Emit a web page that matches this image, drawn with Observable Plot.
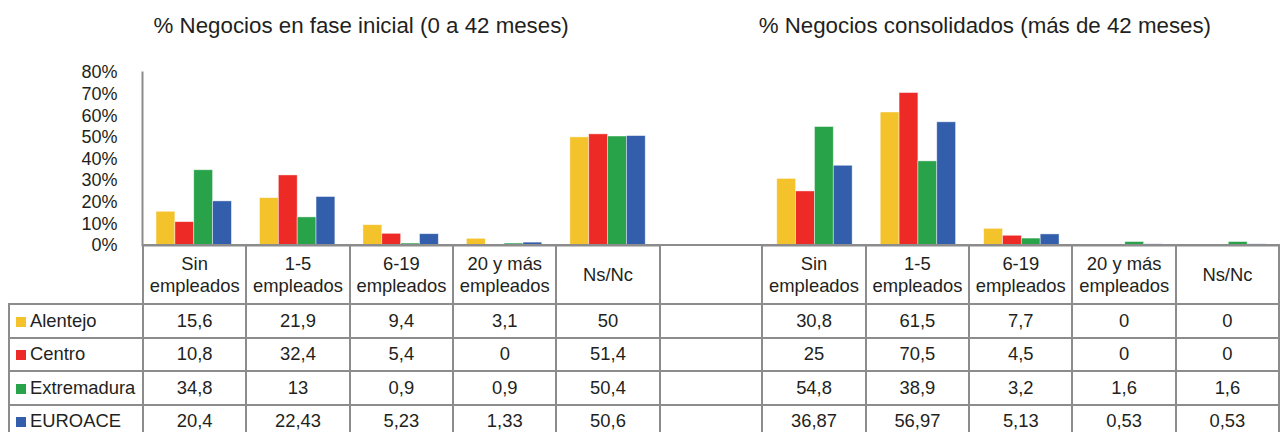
<!DOCTYPE html>
<html><head><meta charset="utf-8">
<script src="https://cdn.jsdelivr.net/npm/d3@7"></script>
<script src="https://cdn.jsdelivr.net/npm/@observablehq/plot@0.6"></script>
<style>
html,body{margin:0;padding:0;background:#fff;overflow:hidden;}
#wrap{position:relative;width:1280px;height:432px;font-family:"Liberation Sans",Arial,sans-serif;color:#231f20;}
#chart svg{position:absolute;left:0;top:0;}
table{position:absolute;left:8px;top:244px;border-collapse:collapse;table-layout:fixed;font-size:18.4px;color:#231f20;}
td{border:2px solid #8c8c8c;text-align:center;padding:0;white-space:nowrap;}
tr.head td{height:57px;line-height:22px;vertical-align:middle;}
tr.row td{height:31.5px;}
td.blank{border-top:none;border-left:none;}
td.lab{text-align:left;padding-left:6px;}
.sq{display:inline-block;width:10px;height:10px;margin-right:4px;vertical-align:0px;}
</style>
</head><body>
<div id="wrap"><div id="chart"></div></div>
<script>
// ---- data ----
const categories = ["Sin empleados", "1-5 empleados", "6-19 empleados", "20 y más empleados", "Ns/Nc"];
const headerLabels = [["Sin", "empleados"], ["1-5", "empleados"], ["6-19", "empleados"], ["20 y más", "empleados"], ["Ns/Nc"]];
const regions = ["Alentejo", "Centro", "Extremadura", "EUROACE"];
const regionColors = ["#f4c22b", "#ee2a26", "#29a34a", "#335eab"];
const titles = ["% Negocios en fase inicial (0 a 42 meses)", "% Negocios consolidados (más de 42 meses)"];
const yTicks = [0, 10, 20, 30, 40, 50, 60, 70, 80];

const inicialAlentejo = [15.6, 21.9, 9.4, 3.1, 50];
const inicialCentro = [10.8, 32.4, 5.4, 0, 51.4];
const inicialExtremadura = [34.8, 13, 0.9, 0.9, 50.4];
const inicialEUROACE = [20.4, 22.43, 5.23, 1.33, 50.6];

const consolidadoAlentejo = [30.8, 61.5, 7.7, 0, 0];
const consolidadoCentro = [25, 70.5, 4.5, 0, 0];
const consolidadoExtremadura = [54.8, 38.9, 3.2, 1.6, 1.6];
const consolidadoEUROACE = [36.87, 56.97, 5.13, 0.53, 0.53];

const inicial = [inicialAlentejo, inicialCentro, inicialExtremadura, inicialEUROACE];
const consolidado = [consolidadoAlentejo, consolidadoCentro, consolidadoExtremadura, consolidadoEUROACE];

// ---- build table for Plot ----
const keysI = categories.map(c => "i|" + c);
const keysC = categories.map(c => "c|" + c);
const fxDomain = [...keysI, "gap", ...keysC];
const rows = [];
regions.forEach((r, ri) => {
  categories.forEach((c, ci) => {
    rows.push({key: keysI[ci], region: r, value: inicial[ri][ci]});
    rows.push({key: keysC[ci], region: r, value: consolidado[ri][ci]});
  });
});

const chart = Plot.plot({
  width: 1280,
  height: 260,
  marginTop: 72,
  marginBottom: 15,
  marginLeft: 142,
  marginRight: 0,
  style: {fontFamily: "'Liberation Sans', Arial, sans-serif", fontSize: "18px", color: "#231f20", background: "transparent"},
  fx: {domain: fxDomain, paddingInner: 0, paddingOuter: 0, round: false, axis: null},
  x: {domain: regions, paddingInner: 0, paddingOuter: 0.745, round: false, axis: null},
  y: {domain: [0, 80], axis: null},
  color: {domain: regions, range: regionColors},
  marks: [
    Plot.barY(rows, {fx: "key", x: "region", y: "value", fill: "region", stroke: "white", strokeOpacity: 0.55, strokeWidth: 0.8}),
    Plot.ruleY([0], {stroke: "#8c8c8c", strokeWidth: 2}),
    Plot.frame({anchor: "left", facetAnchor: "left", stroke: "#8c8c8c", strokeWidth: 2}),
    Plot.axisY(yTicks, {fx: () => keysI[0], facetAnchor: "left", label: null, tickSize: 0, tickPadding: 25, tickFormat: d => d + "%", fontSize: 18, fill: "#231f20"}),
    Plot.text([titles[0]], {fx: [keysI[2]], text: d => d, frameAnchor: "top", lineAnchor: "middle", dy: -47, dx: -40, fontSize: 22.3, fill: "#231f20"}),
    Plot.text([titles[1]], {fx: [keysC[2]], text: d => d, frameAnchor: "top", lineAnchor: "middle", dy: -47, dx: -37, fontSize: 22.3, fill: "#231f20"})
  ]
});
document.getElementById("chart").appendChild(chart);

// ---- data table below the axis ----
const fmt = v => String(v).replace(".", ",");
const colW = (1280 - 142) / 11;
let html = "<colgroup><col style='width:134px'>";
for (let i = 0; i < 11; i++) html += `<col style='width:${colW}px'>`;
html += "</colgroup>";
html += "<tr class='head'><td class='blank'></td>";
headerLabels.forEach(h => html += `<td>${h.join("<br>")}</td>`);
html += "<td></td>";
headerLabels.forEach(h => html += `<td>${h.join("<br>")}</td>`);
html += "</tr>";
regions.forEach((r, ri) => {
  html += `<tr class='row'><td class='lab'><span class='sq' style='background:${regionColors[ri]}'></span>${r}</td>`;
  inicial[ri].forEach(v => html += `<td>${fmt(v)}</td>`);
  html += "<td></td>";
  consolidado[ri].forEach(v => html += `<td>${fmt(v)}</td>`);
  html += "</tr>";
});
const table = document.createElement("table");
table.innerHTML = html;
document.getElementById("wrap").appendChild(table);
</script>
</body></html>
